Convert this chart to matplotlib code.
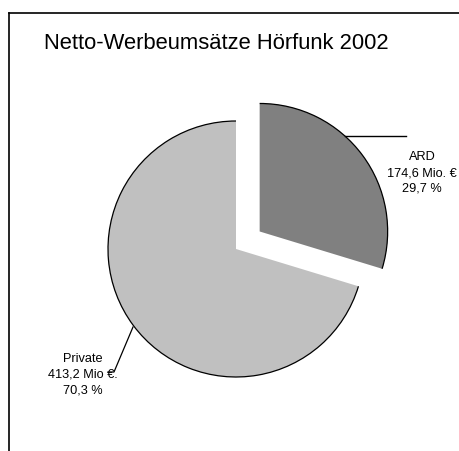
import matplotlib.pyplot as plt
from matplotlib.patches import Arc
from matplotlib.lines import Line2D

plt.rcParams['font.family'] = ['Liberation Sans', 'DejaVu Sans']

# data
names = ['ARD', 'Private']
values = [174.6, 413.2]   # Mio. Euro
colors = ['#808080', '#c0c0c0']
title = 'Netto-Werbeumsätze Hörfunk 2002'

W, H = 460, 452
fig = plt.figure(figsize=(W / 100, H / 100), dpi=100)

# pie centre / radius in pixels
cx, cy, R = 236, 250, 128
ax = fig.add_axes([0, 0, 1, 1])


def px(x, y):
    # pixel coords (from top left) -> data coords
    return (x - cx) / R, (cy - y) / R


wedges, _ = ax.pie(values, colors=colors, startangle=90, counterclock=False,
                   explode=[0.23, 0], radius=1, frame=True,
                   wedgeprops=dict(linewidth=0))
ax.set_xlim(-cx / R, (W - cx) / R)
ax.set_ylim(-(H - cy) / R, cy / R)
ax.axis('off')

# outline only on the outer arcs
for w in wedges:
    ax.add_patch(Arc(w.center, 2 * w.r, 2 * w.r, theta1=w.theta1, theta2=w.theta2,
                     color='black', lw=0.9))

total = sum(values)
labels = []
for n, v in zip(names, values):
    pct = v / total * 100
    labels.append(n + '\n' + f'{v:.1f}'.replace('.', ',') + ' Mio. €\n'
                  + f'{pct:.1f}'.replace('.', ',') + ' %')
labels[1] = labels[1].replace('Mio. €', 'Mio €.')

# label positions (pixel) and leader lines
ax.text(*px(422, 173), labels[0], ha='center', va='center', fontsize=9.2,
        linespacing=1.42, multialignment='center')
ax.plot(*zip(px(345, 137), px(406, 137)), color='black', lw=1.0)

ax.text(*px(83, 375), labels[1], ha='center', va='center', fontsize=9.2,
        linespacing=1.42, multialignment='center')
ax.plot(*zip(px(133, 328), px(114, 373), px(108, 373)), color='black', lw=0.9)

# title
fig.text(44 / W, 1 - 49 / H, title, fontsize=15.8, va='baseline', ha='left')

# chart frame (left and top edges visible)
fig.add_artist(Line2D([9 / W, 9 / W], [0, 1 - 14 / H], transform=fig.transFigure,
                      color='black', lw=1.2))
fig.add_artist(Line2D([9 / W, 1], [1 - 14 / H, 1 - 14 / H], transform=fig.transFigure,
                      color='black', lw=1.2))

fig.savefig('out.png', dpi=100)
